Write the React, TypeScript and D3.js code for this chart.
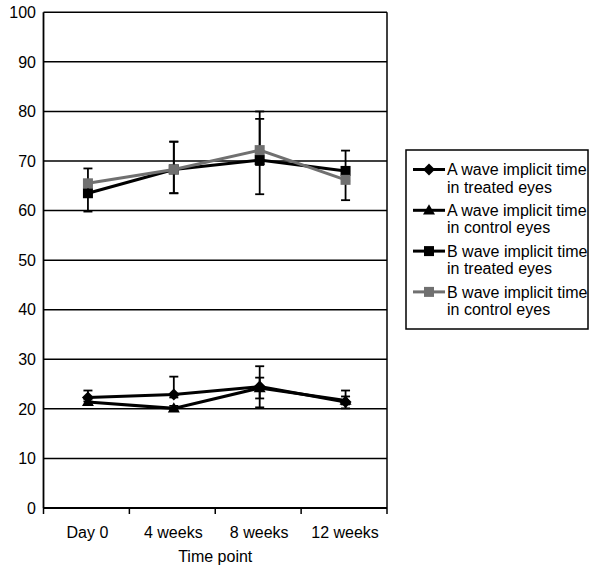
import React from "react";
import * as d3 from "d3";

const categories = ["Day 0", "4 weeks", "8 weeks", "12 weeks"];
const yTicks = [0, 10, 20, 30, 40, 50, 60, 70, 80, 90, 100];

const aTreated = [22.3, 22.9, 24.5, 21.4];
const aTreatedUp = [1.4, 3.6, 4.1, 2.3];
const aTreatedDown = [0.8, 0.6, 4.2, 1.3];

const aControl = [21.4, 20.1, 24.2, 21.7];
const aControlUp = [0.6, 0.5, 2.1, 0.8];
const aControlDown = [0.6, 0.4, 2.1, 0.8];

const bTreated = [63.5, 68.3, 70.2, 68.0];
const bTreatedUp = [2.0, 5.6, 8.3, 4.1];
const bTreatedDown = [3.7, 4.8, 6.9, 2.0];

const bControl = [65.5, 68.3, 72.2, 66.2];
const bControlUp = [3.0, 5.6, 7.8, 1.8];
const bControlDown = [2.0, 4.8, 3.0, 4.1];

const seriesNames = [
  ["A wave implicit time", "in treated eyes"],
  ["A wave implicit time", "in control eyes"],
  ["B wave implicit time", "in treated eyes"],
  ["B wave implicit time", "in control eyes"],
];

type Shape = "diamond" | "triangle" | "square";
const series = [
  { values: aTreated, up: aTreatedUp, down: aTreatedDown, color: "#000000", shape: "diamond" as Shape },
  { values: aControl, up: aControlUp, down: aControlDown, color: "#000000", shape: "triangle" as Shape },
  { values: bTreated, up: bTreatedUp, down: bTreatedDown, color: "#000000", shape: "square" as Shape },
  { values: bControl, up: bControlUp, down: bControlDown, color: "#707070", shape: "square" as Shape },
];

const W = 589;
const H = 570;
const left = 43.5;
const right = 387;
const top = 12.3;
const bottom = 508;
const font = "'Liberation Sans', Arial, Helvetica, sans-serif";
const FS = 16;

function T({ x, y, anchor = "start", children }: { x: number; y: number; anchor?: string; children: React.ReactNode }) {
  return (
    <text x={x} y={y} dy="0.36em" textAnchor={anchor} fontFamily={font} fontSize={FS} fill="#000">
      {children}
    </text>
  );
}

function Marker({ shape, x, y, color }: { shape: Shape; x: number; y: number; color: string }) {
  if (shape === "diamond") {
    const r = 6;
    return <path d={`M${x},${y - r}L${x + r},${y}L${x},${y + r}L${x - r},${y}Z`} fill={color} />;
  }
  if (shape === "triangle") {
    const r = 6;
    return <path d={`M${x},${y - r}L${x + r},${y + r * 0.7}L${x - r},${y + r * 0.7}Z`} fill={color} />;
  }
  const s = 10;
  return <rect x={x - s / 2} y={y - s / 2} width={s} height={s} fill={color} />;
}

export default function App() {
  const x = d3.scaleBand<string>().domain(categories).range([left, right]);
  const y = d3.scaleLinear().domain([0, 100]).range([bottom, top]);
  const cx = (c: string) => (x(c) as number) + x.bandwidth() / 2 + 1.5;
  const line = d3
    .line<number>()
    .x((_, i) => cx(categories[i]))
    .y((v) => y(v));

  const legX = 406;
  const legY = 150;
  const legW = 182;
  const legH = 179;

  return (
    <svg width={W} height={H} style={{ position: "absolute", left: 0, top: 0, background: "#fff" }}>
      <rect width={W} height={H} fill="#fff" />
      {yTicks.map((t) => (
        <line key={t} x1={left} x2={right} y1={y(t)} y2={y(t)} stroke="#000" strokeWidth={1.5} />
      ))}
      <line x1={left} x2={left} y1={top} y2={bottom} stroke="#000" strokeWidth={1.8} />
      <line x1={right} x2={right} y1={top} y2={bottom} stroke="#000" strokeWidth={1.5} />
      <line x1={left} x2={right} y1={bottom} y2={bottom} stroke="#000" strokeWidth={1.8} />
      {categories.map((c) => (x(c) as number)).concat([right]).map((v, i) => (
        <line key={i} x1={v} x2={v} y1={bottom} y2={bottom + 6} stroke="#000" strokeWidth={1.5} />
      ))}
      {yTicks.map((t) => (
        <T key={t} x={36} y={y(t)} anchor="end">{t}</T>
      ))}
      {categories.map((c) => (
        <T key={c} x={(x(c) as number) + x.bandwidth() / 2 + 1} y={532} anchor="middle">{c}</T>
      ))}
      <T x={(left + right) / 2} y={556} anchor="middle">Time point</T>
      {series.map((s, si) =>
        s.values.map((v, i) => {
          const px = cx(categories[i]);
          const y1 = y(v + s.up[i]);
          const y2 = y(v - s.down[i]);
          return (
            <g key={`${si}-${i}`} stroke="#000" strokeWidth={1.8}>
              <line x1={px} x2={px} y1={y1} y2={y2} />
              <line x1={px - 4.5} x2={px + 4.5} y1={y1} y2={y1} />
              <line x1={px - 4.5} x2={px + 4.5} y1={y2} y2={y2} />
            </g>
          );
        })
      )}
      {series.map((s, si) => (
        <g key={si}>
          <path d={line(s.values) || ""} fill="none" stroke={s.color} strokeWidth={3} />
          {s.values.map((v, i) => (
            <Marker key={i} shape={s.shape} x={cx(categories[i])} y={y(v)} color={s.color} />
          ))}
        </g>
      ))}
      <rect x={legX} y={legY} width={legW} height={legH} fill="#fff" stroke="#000" strokeWidth={1.5} />
      {series.map((s, i) => {
        const ry = 169.5 + i * 40.8;
        return (
          <g key={i}>
            <line x1={413} x2={445} y1={ry} y2={ry} stroke={s.color} strokeWidth={3} />
            <Marker shape={s.shape} x={429} y={ry} color={s.color} />
            <T x={447} y={ry}>{seriesNames[i][0]}</T>
            <T x={447} y={ry + 17.3}>{seriesNames[i][1]}</T>
          </g>
        );
      })}
    </svg>
  );
}
